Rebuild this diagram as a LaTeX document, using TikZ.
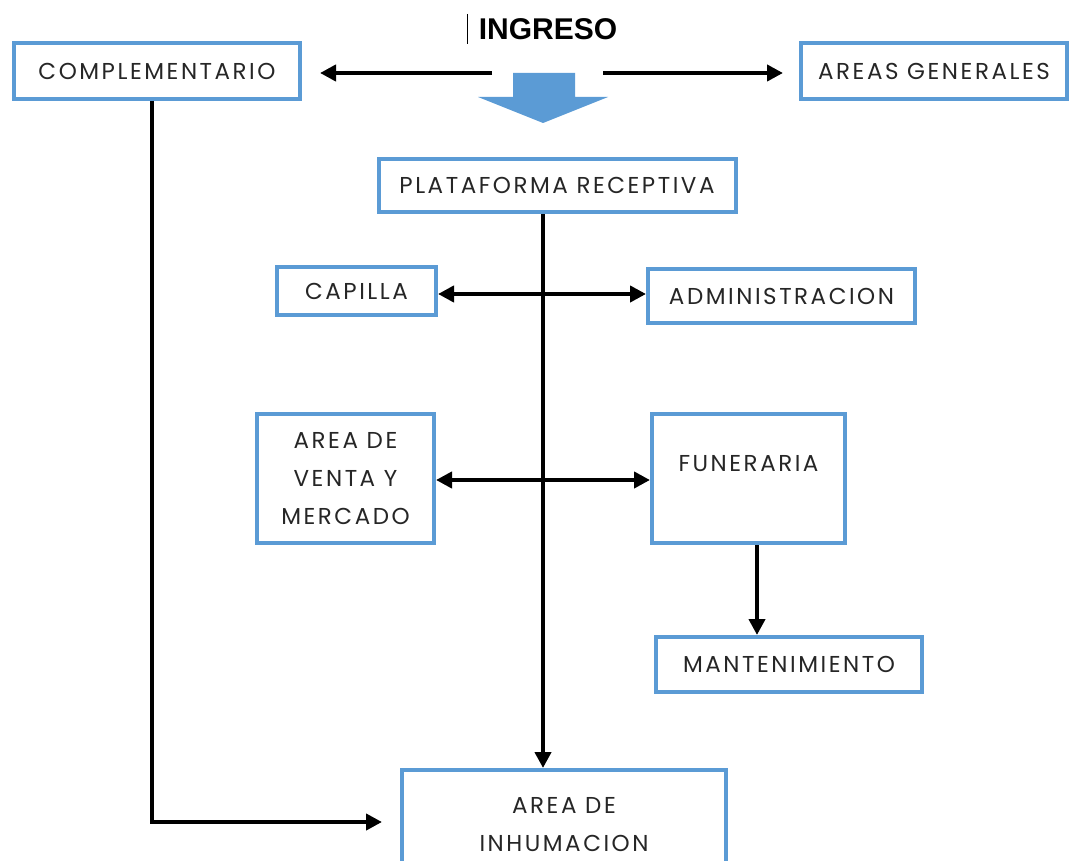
\documentclass[tikz,border=0pt]{standalone}
\usepackage{fontspec}
\setmainfont{Poppins}[LetterSpace=11]
\newfontfamily\arialfont{Liberation Sans}
\usetikzlibrary{arrows.meta}
\definecolor{boxblue}{HTML}{5B9BD5}
\tikzset{
  box/.style={draw=boxblue, line width=4pt, fill=white, inner sep=0pt, align=center,
    font=\fontsize{23}{38}\selectfont, text=black!85},
  conn/.style={line width=4pt, -{Triangle[length=16pt,width=16pt]}},
  biconn/.style={line width=4pt, {Triangle[length=16pt,width=16pt]}-{Triangle[length=16pt,width=16pt]}},
}
\begin{document}
\begin{tikzpicture}[x=1pt,y=-1pt]
\useasboundingbox (0,0) rectangle (1073,861);
\begin{scope}
\clip (0,0) rectangle (1073,861);
% boxes
\node[box, minimum width=286pt, minimum height=56pt] (comp) at (157,71) {COMPLEMENTARIO};
\node[box, minimum width=266pt, minimum height=56pt] (areas) at (934,71) {AREAS GENERALES};
\node[box, minimum width=357pt, minimum height=53pt] (plat) at (557,185.5) {PLATAFORMA RECEPTIVA};
\node[box, minimum width=159pt, minimum height=48pt] (cap) at (356.5,291) {CAPILLA};
\node[box, minimum width=267pt, minimum height=54pt] (adm) at (781.5,296) {ADMINISTRACION};
\node[box, minimum width=177pt, minimum height=129pt] (venta) at (345.5,478.5) {AREA DE\\VENTA Y\\MERCADO};
\node[box, minimum width=193pt, minimum height=129pt] (fun) at (748.5,478.5) {FUNERARIA\\[-8pt]\mbox{}};
\node[box, minimum width=266pt, minimum height=55pt] (mant) at (789,664.5) {MANTENIMIENTO};
\node[box, minimum width=324pt, minimum height=110pt] (inh) at (564,825) {AREA DE\\INHUMACION};
% ingreso
\node[font=\arialfont\bfseries\fontsize{30}{34}\selectfont] (ing) at (548,29) {INGRESO};
\draw[line width=1pt] (467,14) -- (467,44);
\coordinate (lstart) at (492,73);
\coordinate (lend) at (320,73);
\coordinate (rstart) at (603,73);
\coordinate (rend) at (783,73);
\draw[conn] (lstart) -- (lend);
\draw[conn] (rstart) -- (rend);
% block arrow
\fill[boxblue] (513,73) -- (575,73) -- (575,97) -- (608,97) -- (543,123) -- (478,97) -- (513,97) -- cycle;
% main vertical
\draw[conn] (plat.south -| 543,0) -- (inh.north -| 543,0);
\draw[biconn] (cap.east |- 0,294) -- (adm.west |- 0,294);
\draw[biconn] (venta.east |- 0,480) -- (fun.west |- 0,480);
\draw[conn] (fun.south -| 757,0) -- (mant.north -| 757,0);
% complementario to inhumacion
\coordinate (corner) at (152,822);
\coordinate (inhin) at (382,822);
\draw[conn] (comp.south -| 152,0) -- (corner) -- (inhin);
\end{scope}
\end{tikzpicture}
\end{document}
